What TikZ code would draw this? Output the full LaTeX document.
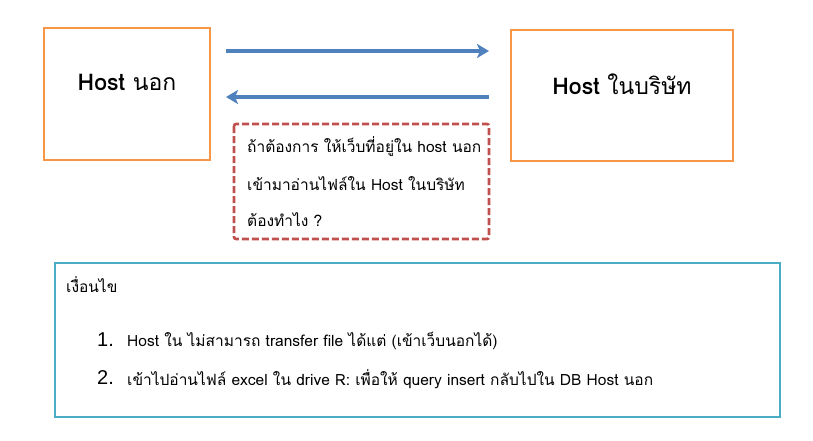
\documentclass[tikz,border=0pt]{standalone}
\usepackage{fontspec}
\setmainfont[Script=Thai]{Loma}
\newfontfamily\numfont{Liberation Sans}
\usetikzlibrary{arrows.meta}
\definecolor{orng}{HTML}{F79646}
\definecolor{blu}{HTML}{4F81BD}
\definecolor{rd}{HTML}{C0504D}
\definecolor{cyn}{HTML}{4BACC6}
\tikzset{hostbox/.style={draw=orng,line width=2.6pt,fill=white},
arr/.style={draw=blu,line width=3.2pt,-{Stealth[length=12pt,width=14pt,inset=3pt]}},
txt/.style={anchor=west,inner sep=0pt,font=\fontsize{15.5}{18}\selectfont}}
\begin{document}
\begin{tikzpicture}[x=1pt,y=-1pt]
\useasboundingbox (0,0) rectangle (813,441);
\draw[hostbox] (44,28) rectangle (210,160);
\draw[hostbox] (511,30) rectangle (733,161);
\node (a) at (127,82) {\fontsize{23}{26}\selectfont\textbf{Host} นอก};
\node (b) at (622,84) {\fontsize{23}{26}\selectfont\textbf{Host} ในบริษัท};
\coordinate (a1) at (226,51); \coordinate (b1) at (489,51);
\coordinate (a2) at (226,97); \coordinate (b2) at (489,97);
\draw[arr] (a1) -- (b1);
\draw[arr] (b2) -- (a2);
\draw[draw=rd,line width=2.6pt,dash pattern=on 7pt off 3pt,rounded corners=2pt] (234,124) rectangle (489,239);
\node[txt] (q1) at (247,147) {ถ้าต้องการ ให้เว็บที่อยู่ใน host นอก};
\node[txt] (q2) at (247,184) {เข้ามาอ่านไฟล์ใน Host ในบริษัท};
\node[txt] (q3) at (247,220) {ต้องทำไง ?};
\draw[draw=cyn,line width=2.6pt] (55,263) rectangle (780,417);
\node[txt] (c) at (66,285) {เงื่อนไข};
\node[anchor=west,inner sep=0pt,font=\numfont\fontsize{20}{22}\selectfont] (n1) at (97,340) {1.};
\node[txt] (l1) at (127,341) {Host ใน ไม่สามารถ transfer file ได้แต่ (เข้าเว็บนอกได้)};
\node[anchor=west,inner sep=0pt,font=\numfont\fontsize{20}{22}\selectfont] (n2) at (97,378) {2.};
\node[txt] (l2) at (127,379) {เข้าไปอ่านไฟล์ excel ใน drive R: เพื่อให้ query insert กลับไปใน DB Host นอก};
\end{tikzpicture}
\end{document}
